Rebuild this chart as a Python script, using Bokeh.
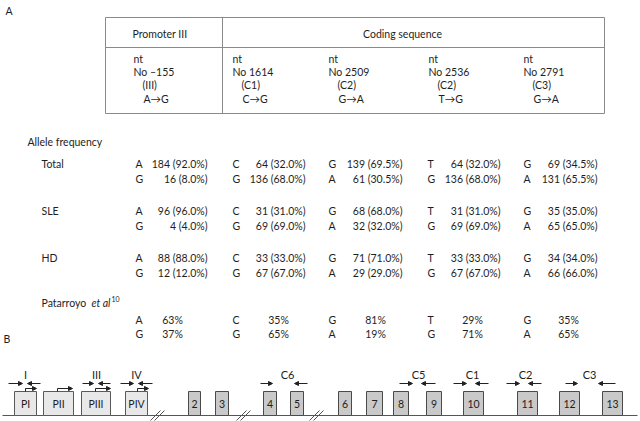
from bokeh.plotting import figure
from bokeh.models import Range1d, ColumnDataSource, Arrow, NormalHead
from bokeh.core.properties import value
from bokeh.embed import file_html
from bokeh.resources import INLINE

# ---------------- data ----------------
nt_positions = ["\u2013155", "1614", "2509", "2536", "2791"]
regions = ["(III)", "(C1)", "(C2)", "(C2)", "(C3)"]
changes = ["A\u2192G", "C\u2192G", "G\u2192A", "T\u2192G", "G\u2192A"]
allele_1 = ["A", "C", "G", "T", "G"]
allele_2 = ["G", "G", "A", "G", "A"]

groups = ["Total", "SLE", "HD"]
total_counts_1 = [184, 64, 139, 64, 69]
total_counts_2 = [16, 136, 61, 136, 131]
total_pct_1 = [92.0, 32.0, 69.5, 32.0, 34.5]
total_pct_2 = [8.0, 68.0, 30.5, 68.0, 65.5]
sle_counts_1 = [96, 31, 68, 31, 35]
sle_counts_2 = [4, 69, 32, 69, 65]
sle_pct_1 = [96.0, 31.0, 68.0, 31.0, 35.0]
sle_pct_2 = [4.0, 69.0, 32.0, 69.0, 65.0]
hd_counts_1 = [88, 33, 71, 33, 34]
hd_counts_2 = [12, 67, 29, 67, 66]
hd_pct_1 = [88.0, 33.0, 71.0, 33.0, 34.0]
hd_pct_2 = [12.0, 67.0, 29.0, 67.0, 66.0]
patarroyo_pct_1 = [63, 35, 81, 29, 35]
patarroyo_pct_2 = [37, 65, 19, 71, 65]

promoter_names = ["PI", "PII", "PIII", "PIV"]
exon_names = ["2", "3", "4", "5", "6", "7", "8", "9", "10", "11", "12", "13"]
primer_names = ["I", "III", "IV", "C6", "C5", "C1", "C2", "C3"]

# ---------------- layout ----------------
FONT = "Lato"
TXT = "#1e1e1e"
LINE = "#8a8a8a"
FS = "10.5px"

p = figure(width=640, height=421, output_backend="svg", toolbar_location=None,
           x_range=Range1d(0, 640), y_range=Range1d(421, 0),
           min_border=0, outline_line_color=None,
           x_axis_type=None, y_axis_type=None)
p.grid.visible = False
p.background_fill_color = "white"


def texts(xs, ys, ts, size=FS, align="left", style="normal", color=TXT):
    src = ColumnDataSource(dict(x=xs, y=ys, text=ts))
    p.text(x="x", y="y", text="text", source=src, text_font=value(FONT),
           text_font_size=value(size), text_align=align, text_baseline="middle",
           text_color=color, text_font_style=style)


# panel letters
texts([5], [10], ["A"])
texts([3], [338], ["B"])

# table frame
p.segment(x0=[105, 105, 105, 105, 604, 222], y0=[17, 47, 113, 17, 17, 17],
          x1=[604, 604, 604, 105, 604, 222], y1=[17, 47, 113, 113, 113, 113],
          line_color=LINE, line_width=1)
texts([132], [33], ["Promoter III"])
texts([402], [33], ["Coding sequence"], align="center")

col_x = [133, 232, 328, 428, 523]
texts(col_x, [58] * 5, ["nt"] * 5)
texts(col_x, [71] * 5, ["No " + s for s in nt_positions])
texts([x + 9 for x in col_x], [84] * 5, regions)
texts([x + 10 for x in col_x], [98] * 5, changes)

# allele frequency block
texts([27], [141], ["Allele frequency"])
letter_x = [135, 232, 328, 427, 523]
right_x = [207, 305, 402, 500, 597]
pat_x = [172, 278, 375, 472, 568]

group_rows = [163, 210, 257]
group_data = [
    (total_counts_1, total_pct_1, total_counts_2, total_pct_2),
    (sle_counts_1, sle_pct_1, sle_counts_2, sle_pct_2),
    (hd_counts_1, hd_pct_1, hd_counts_2, hd_pct_2),
]
for g, y, (c1, p1, c2, p2) in zip(groups, group_rows, group_data):
    texts([41], [y], [g])
    texts(letter_x, [y] * 5, allele_1)
    texts(letter_x, [y + 15] * 5, allele_2)
    texts(right_x, [y] * 5, [f"{c} ({v:.1f}%)" for c, v in zip(c1, p1)], align="right")
    texts(right_x, [y + 15] * 5, [f"{c} ({v:.1f}%)" for c, v in zip(c2, p2)], align="right")

# Patarroyo et al
texts([41], [302], ["Patarroyo"])
texts([91], [302], ["et al"], style="italic")
texts([111], [298], ["10"], size="7px")
texts(letter_x, [319] * 5, allele_1)
texts(letter_x, [333] * 5, allele_2)
texts(pat_x, [319] * 5, [f"{v}%" for v in patarroyo_pct_1], align="center")
texts(pat_x, [333] * 5, [f"{v}%" for v in patarroyo_pct_2], align="center")

# ---------------- gene diagram ----------------
BASE = 415
TOP = 391
p.segment(x0=[2], y0=[BASE], x1=[637], y1=[BASE], line_color="#555555", line_width=1)

prom_left = [14, 43, 81, 125]
prom_right = [36, 73, 110, 147]
p.quad(left=prom_left, right=prom_right, top=[TOP] * 4, bottom=[BASE] * 4,
       fill_color="#e8e8e8", line_color="#5a5a5a", line_width=1)
texts([(a + b) / 2 for a, b in zip(prom_left, prom_right)], [403] * 4, promoter_names,
      align="center")

ex_left = [188, 215, 263, 290, 338, 366, 393, 426, 463, 517, 559, 602]
ex_right = [200, 228, 276, 303, 351, 382, 408, 441, 483, 537, 579, 622]
p.quad(left=ex_left, right=ex_right, top=[TOP] * 12, bottom=[BASE] * 12,
       fill_color="#c9c9c9", line_color="#4a4a4a", line_width=1)
texts([(a + b) / 2 for a, b in zip(ex_left, ex_right)], [403] * 12, exon_names,
      align="center")

# breaks //
for bx in [157, 243, 316]:
    p.segment(x0=[bx - 7, bx - 3], y0=[420, 420], x1=[bx + 3, bx + 7], y1=[410, 410],
              line_color="#555555", line_width=1)

# transcription start arrows (bent)
tss_x = [25, 57, 95, 137]
tss_end = [36, 72, 110, 148]
p.segment(x0=tss_x, y0=[TOP] * 4, x1=tss_x, y1=[388] * 4, line_color="#222222", line_width=1)
p.add_layout(Arrow(end=NormalHead(size=4, fill_color="#222222", line_color="#222222"),
                   source=ColumnDataSource(dict(x0=tss_x, y0=[388] * 4, x1=tss_end, y1=[388] * 4)),
                   x_start="x0", y_start="y0", x_end="x1", y_end="y1",
                   line_color="#222222", line_width=1))

# primer arrows
primer_label_x = [25, 96, 136, 287, 418, 472, 525, 589]
fwd_start = [8, 82, 120, 260, 399, 453, 506, 565]
fwd_end = [22, 93, 133, 272, 412, 466, 519, 577]
rev_start = [40, 110, 152, 307, 435, 488, 541, 615]
rev_end = [27, 98, 138, 294, 421, 475, 528, 598]
AY = 383
p.add_layout(Arrow(end=NormalHead(size=4, fill_color="#222222", line_color="#222222"),
                   source=ColumnDataSource(dict(x0=fwd_start + rev_start, y0=[AY] * 16,
                                                x1=fwd_end + rev_end, y1=[AY] * 16)),
                   x_start="x0", y_start="y0", x_end="x1", y_end="y1",
                   line_color="#222222", line_width=1))
texts(primer_label_x, [374] * 8, primer_names, size="11px", align="center")

open("out.html", "w").write(file_html(p, INLINE))
